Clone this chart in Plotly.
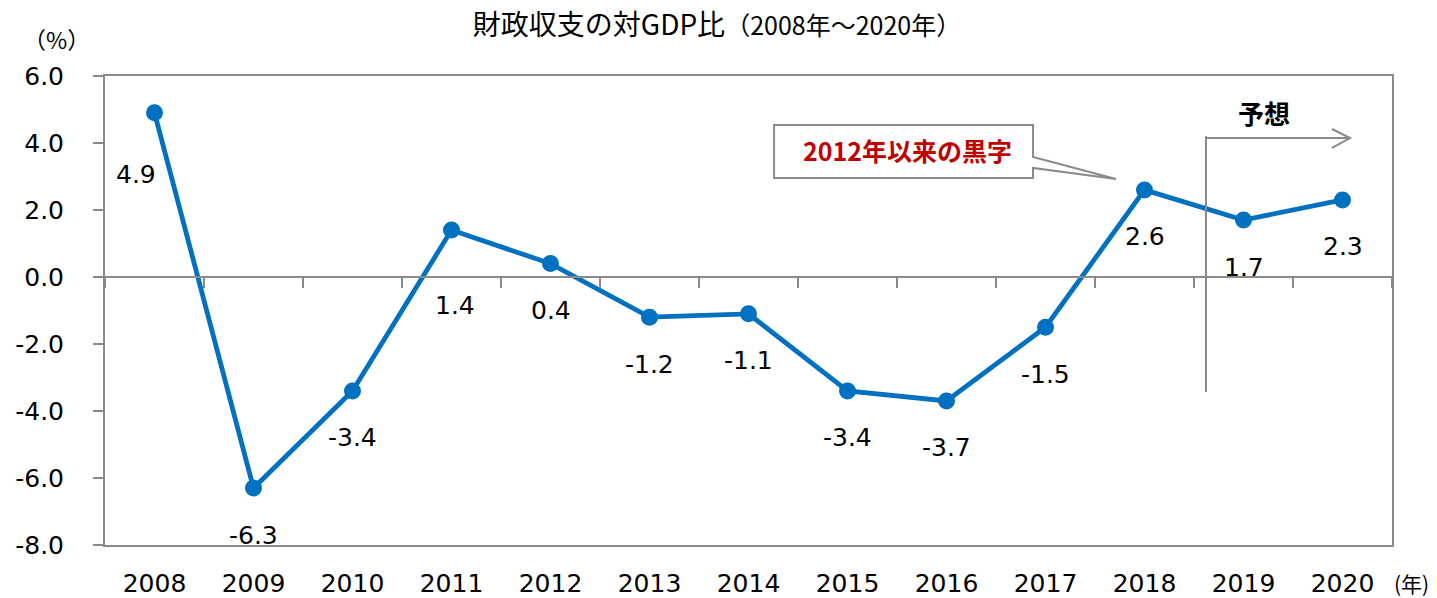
import plotly.graph_objects as go

# ---- data ----
years = ["2008", "2009", "2010", "2011", "2012", "2013", "2014",
         "2015", "2016", "2017", "2018", "2019", "2020"]
balance = [4.9, -6.3, -3.4, 1.4, 0.4, -1.2, -1.1, -3.4, -3.7, -1.5, 2.6, 1.7, 2.3]
value_labels = ["4.9", "-6.3", "-3.4", "1.4", "0.4", "-1.2", "-1.1",
                "-3.4", "-3.7", "-1.5", "2.6", "1.7", "2.3"]
y_tickvals = [-8, -6, -4, -2, 0, 2, 4, 6]
y_ticktext = ["-8.0", "-6.0", "-4.0", "-2.0", "0.0", "2.0", "4.0", "6.0"]
title_main = "財政収支の対GDP比"
title_sub = "（2008年～2020年）"
callout_text = "2012年以来の黒字"
forecast_text = "予想"

# ---- style ----
BLUE = "#0070C0"
GRAY = "#8A8A8A"
LATIN = "DejaVu Sans, Verdana, sans-serif"
CJK = "Noto Sans CJK JP, sans-serif"
# label offsets in px (dx, dy) for specific years; default below the point
label_offsets = {"2008": (-19, -62), "2011": (3, -75)}
default_offset = (0, -47)

fig = go.Figure()

fig.add_trace(go.Scatter(
    x=years, y=balance, mode="lines+markers",
    line=dict(color=BLUE, width=4.8),
    marker=dict(color=BLUE, size=17),
    showlegend=False, hoverinfo="x+y",
))
# invisible trace to carry the zero-line category axis
fig.add_trace(go.Scatter(
    x=years, y=[None] * len(years), xaxis="x2", yaxis="y",
    mode="markers", showlegend=False, hoverinfo="skip",
))

annotations = []
for i, (yr, v, t) in enumerate(zip(years, balance, value_labels)):
    dx, dy = label_offsets.get(yr, default_offset)
    annotations.append(dict(
        x=i, y=v, xref="x", yref="y", text=t, showarrow=False,
        xshift=dx, yshift=dy, font=dict(family=LATIN, size=25, color="#000000"),
    ))

annotations += [
    dict(xref="paper", yref="paper", x=-0.038, y=1.079, text="（%）",
         xanchor="center", yanchor="middle",
         showarrow=False, font=dict(family=CJK, size=23, color="#000000")),
    dict(xref="paper", yref="paper", x=1.0155, y=-0.081, text="(年)",
         xanchor="center", yanchor="middle", borderpad=0,
         showarrow=False, font=dict(family=CJK, size=21, color="#000000")),
    dict(xref="x", yref="y", x=7.601, y=3.791, text="<b>" + callout_text + "</b>",
         showarrow=False, font=dict(family=CJK, size=25, color="#C00000")),
    dict(xref="x", yref="y", x=11.202, y=4.925, text="<b>" + forecast_text + "</b>",
         showarrow=False, font=dict(family=CJK, size=26, color="#000000")),
]

shapes = [
    # callout box with pointer
    dict(type="path", xref="x", yref="y",
         path="M 6.258,4.537 L 8.874,4.537 L 8.874,3.582 L 9.712,2.925 "
              "L 8.874,3.254 L 8.874,2.955 L 6.258,2.955 Z",
         line=dict(color=GRAY, width=2), fillcolor="white", layer="above"),
    # forecast separator
    dict(type="line", xref="x", yref="y", x0=10.621, x1=10.621, y0=4.209, y1=-3.433,
         line=dict(color=GRAY, width=2)),
    dict(type="line", xref="x", yref="y", x0=10.621, x1=12.076, y0=4.149, y1=4.149,
         line=dict(color=GRAY, width=2)),
    dict(type="path", xref="x", yref="y",
         path="M 11.894,4.418 L 12.076,4.149 L 11.894,3.851",
         line=dict(color=GRAY, width=2)),
]

fig.update_layout(
    width=1437, height=598,
    margin=dict(l=105, r=45, t=76, b=53),
    paper_bgcolor="white", plot_bgcolor="white",
    title=dict(
        text=title_main + "<span style='font-size:25px'>" + title_sub + "</span>",
        x=717 / 1437, xanchor="center", y=0.958, yanchor="middle",
        font=dict(family=CJK, size=28, color="#000000"),
    ),
    xaxis=dict(
        type="category", categoryorder="array", categoryarray=years,
        range=[-0.5, 12.5], showgrid=False, zeroline=False, automargin=False,
        showline=True, linecolor=GRAY, linewidth=2, mirror=True,
        ticks="", tickfont=dict(family=LATIN, size=25, color="#000000"),
        ticklabelstandoff=15,
    ),
    xaxis2=dict(
        type="category", categoryorder="array", categoryarray=years,
        range=[-0.5, 12.5], overlaying="x", anchor="free", position=8 / 14,
        showgrid=False, zeroline=False, showline=True, linecolor=GRAY, linewidth=2,
        ticks="outside", tickson="boundaries", ticklen=10, tickwidth=2, tickcolor=GRAY,
        showticklabels=False, automargin=False,
    ),
    yaxis=dict(
        range=[-8, 6], tickvals=y_tickvals, ticktext=y_ticktext, automargin=False,
        showgrid=False, zeroline=False, showline=True, linecolor=GRAY, linewidth=2,
        mirror=True, ticks="outside", ticklen=10, tickwidth=2, tickcolor=GRAY,
        tickfont=dict(family=LATIN, size=25, color="#000000"),
        ticklabelstandoff=24,
    ),
    annotations=annotations,
    shapes=shapes,
)

fig.write_html(
    "out.html",
    config={"displayModeBar": False},
    post_script="document.body.style.margin='0px';document.body.style.overflow='hidden';",
)
